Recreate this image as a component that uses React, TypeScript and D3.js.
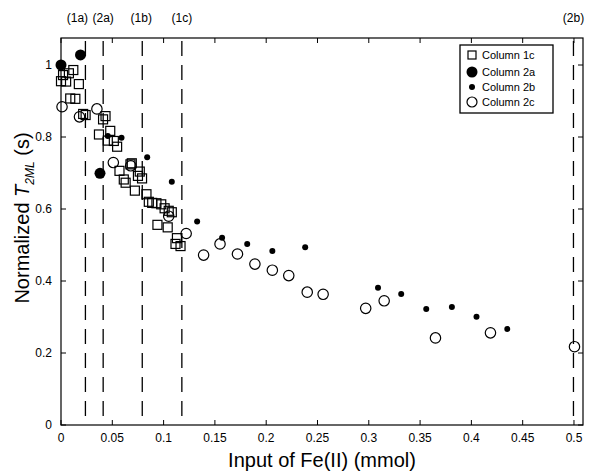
import React from "react";
import * as d3 from "d3";

const W = 589;
const H = 471;

const col1cX = [0.002, 0, 0.005, 0.0077, 0.012, 0.0174, 0.009, 0.014, 0.0216, 0.024, 0.041, 0.0434, 0.037, 0.048, 0.0456, 0.0515, 0.0547, 0.057, 0.0612, 0.063, 0.0677, 0.069, 0.072, 0.0768, 0.075, 0.079, 0.0833, 0.0856, 0.0889, 0.093, 0.0977, 0.101, 0.105, 0.108, 0.094, 0.104, 0.113, 0.1116, 0.1165];
const col1cY = [0.972, 0.955, 0.954, 0.977, 0.986, 0.947, 0.907, 0.906, 0.864, 0.861, 0.849, 0.858, 0.807, 0.817, 0.79, 0.789, 0.773, 0.706, 0.682, 0.673, 0.724, 0.727, 0.651, 0.704, 0.692, 0.685, 0.641, 0.62, 0.617, 0.616, 0.613, 0.602, 0.595, 0.591, 0.556, 0.549, 0.519, 0.503, 0.497];

const col2aX = [0, 0.019, 0.038];
const col2aY = [1.0, 1.028, 0.699];

const col2bX = [0.0456, 0.059, 0.084, 0.108, 0.1327, 0.157, 0.1815, 0.206, 0.238, 0.309, 0.3316, 0.356, 0.381, 0.405, 0.435];
const col2bY = [0.803, 0.798, 0.744, 0.676, 0.565, 0.52, 0.503, 0.483, 0.494, 0.381, 0.364, 0.322, 0.328, 0.301, 0.267];

const col2cX = [0.001, 0.018, 0.035, 0.051, 0.068, 0.105, 0.122, 0.139, 0.155, 0.172, 0.189, 0.206, 0.222, 0.24, 0.2555, 0.297, 0.315, 0.365, 0.4186, 0.5005];
const col2cY = [0.884, 0.856, 0.878, 0.729, 0.72, 0.58, 0.532, 0.472, 0.503, 0.475, 0.447, 0.43, 0.415, 0.369, 0.363, 0.324, 0.345, 0.242, 0.256, 0.2175];

const refLabels = ["(1a)", "(2a)", "(1b)", "(1c)", "(2b)"];
const refX = [0.0238, 0.0411, 0.0792, 0.1178, 0.4995];

const xTicks = [0, 0.05, 0.1, 0.15, 0.2, 0.25, 0.3, 0.35, 0.4, 0.45, 0.5];
const yTicks = [0, 0.2, 0.4, 0.6, 0.8, 1];

const legendNames = ["Column 1c", "Column 2a", "Column 2b", "Column 2c"];

const FONT = "'Liberation Sans', Arial, Helvetica, sans-serif";

export default function App() {
  const left = 61, right = 583, top = 38, bottom = 425;
  const x = d3.scaleLinear().domain([0, 0.5088]).range([left, right]);
  const y = d3.scaleLinear().domain([0, 1.075]).range([bottom, top]);
  const fmt = (v: number) => (v === 0 ? "0" : v === 1 ? "1" : String(v));
  const tl = 5;
  const labelShift = [-8, 0, -1, 0, 0];

  const sq = 9;
  const legendX = 460, legendY = 45, legendW = 93, legendH = 68;
  const rowY = [55, 72, 87, 102];

  return (
    <svg width={W} height={H} style={{ display: "block", position: "absolute", left: 0, top: 0 }} fontFamily={FONT}>
      <rect x={0} y={0} width={W} height={H} fill="#fff" />
      {/* reference dashed lines */}
      {refX.map((v, i) => (
        <g key={"r" + i}>
          <line x1={x(v)} x2={x(v)} y1={top} y2={bottom} stroke="#000" strokeWidth={1.3} strokeDasharray="15,9" strokeDashoffset={-3} />
          <text x={x(v) + labelShift[i]} y={22} fontSize={12} textAnchor="middle">{refLabels[i]}</text>
        </g>
      ))}
      {/* frame */}
      <rect x={left} y={top} width={right - left} height={bottom - top} fill="none" stroke="#000" strokeWidth={1.2} />
      {/* x ticks */}
      {xTicks.map((t, i) => (
        <g key={"xt" + i}>
          <line x1={x(t)} x2={x(t)} y1={bottom} y2={bottom - tl} stroke="#000" strokeWidth={1} />
          <line x1={x(t)} x2={x(t)} y1={top} y2={top + tl} stroke="#000" strokeWidth={1} />
          <text x={x(t)} y={bottom + 17} fontSize={12} textAnchor="middle">{fmt(t)}</text>
        </g>
      ))}
      {/* y ticks */}
      {yTicks.map((t, i) => (
        <g key={"yt" + i}>
          <line x1={left} x2={left + tl} y1={y(t)} y2={y(t)} stroke="#000" strokeWidth={1} />
          <line x1={right} x2={right - tl} y1={y(t)} y2={y(t)} stroke="#000" strokeWidth={1} />
          <text x={left - 9} y={y(t) + 4} fontSize={12} textAnchor="end">{fmt(t)}</text>
        </g>
      ))}
      {/* axis titles */}
      <text x={(left + right) / 2} y={467} fontSize={20} textAnchor="middle">Input of Fe(II) (mmol)</text>
      <text transform={`translate(29, 218) rotate(-90)`} fontSize={20} textAnchor="middle">
        Normalized <tspan fontStyle="italic">T</tspan>
        <tspan fontStyle="italic" fontSize={12} dy={5}>2ML</tspan>
        <tspan dy={-5}> (s)</tspan>
      </text>
      {/* Column 1c squares */}
      {col1cX.map((v, i) => (
        <rect key={"s" + i} x={x(v) - sq / 2} y={y(col1cY[i]) - sq / 2} width={sq} height={sq} fill="none" stroke="#000" strokeWidth={1.2} />
      ))}
      {/* Column 2a big filled */}
      {col2aX.map((v, i) => (
        <circle key={"a" + i} cx={x(v)} cy={y(col2aY[i])} r={5.5} fill="#000" />
      ))}
      {/* Column 2b small filled */}
      {col2bX.map((v, i) => (
        <circle key={"b" + i} cx={x(v)} cy={y(col2bY[i])} r={3} fill="#000" />
      ))}
      {/* Column 2c open circles */}
      {col2cX.map((v, i) => (
        <circle key={"c" + i} cx={x(v)} cy={y(col2cY[i])} r={5.2} fill="none" stroke="#000" strokeWidth={1.2} />
      ))}
      {/* legend */}
      <rect x={legendX} y={legendY} width={legendW} height={legendH} fill="#fff" stroke="#000" strokeWidth={1.3} />
      <rect x={472 - 4} y={rowY[0] - 4} width={8} height={8} fill="none" stroke="#000" strokeWidth={1.2} />
      <circle cx={472} cy={rowY[1]} r={5.5} fill="#000" />
      <circle cx={472} cy={rowY[2]} r={3} fill="#000" />
      <circle cx={472} cy={rowY[3]} r={5} fill="none" stroke="#000" strokeWidth={1.2} />
      {legendNames.map((n, i) => (
        <text key={"l" + i} x={482} y={rowY[i] + 4} fontSize={11}>{n}</text>
      ))}
    </svg>
  );
}
